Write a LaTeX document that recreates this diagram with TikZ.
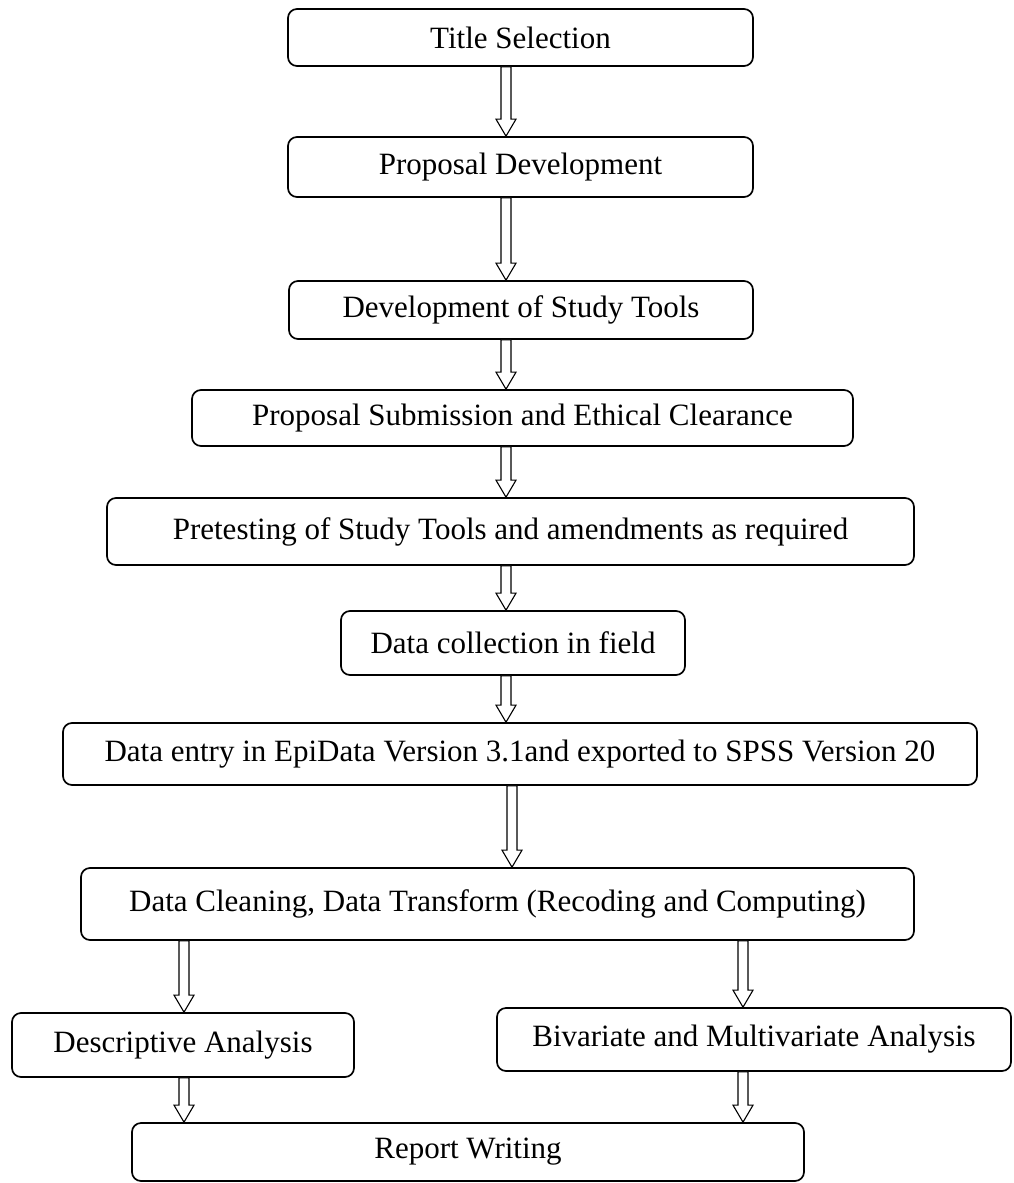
\documentclass[tikz,border=0pt]{standalone}
\usepackage{fontspec}
\setmainfont{Liberation Serif}
\usetikzlibrary{calc}

\tikzset{
  stage/.style={draw, line width=1.7pt, rounded corners=9pt, inner sep=0pt,
    font=\fontsize{31}{37}\selectfont, align=center},
  flowarrow/.style={draw, line width=1.1pt, fill=white, line join=miter}
}

% stage box given by its left, right, top and bottom edges (in px, y downwards)
\newcommand\stagebox[6]{%
  \node[stage, minimum width={#3-#2}, minimum height={#5-#4}]
    (#1) at ({(#2+#3)/2},{(#4+#5)/2}) {#6};}

% hollow block arrow at horizontal position #1 from node #2 down to node #3
\newcommand\flowlink[3]{%
  \path[flowarrow] let \p1=(#2.south), \p2=(#3.north) in
    (#1pt-5pt,\y1) -- (#1pt+5pt,\y1) -- (#1pt+5pt,\y2+17pt)
    -- (#1pt+10pt,\y2+17pt) -- (#1pt,\y2) -- (#1pt-10pt,\y2+17pt)
    -- (#1pt-5pt,\y2+17pt) -- cycle;}

\begin{document}
\begin{tikzpicture}[x=1pt, y=-1pt]
  \useasboundingbox (0,0) rectangle (1013,1183);

  \stagebox{title}{288}{753}{9}{66}{Title Selection}
  \stagebox{proposal}{288}{753}{137}{197}{Proposal Development}
  \stagebox{tools}{289}{753}{281}{339}{Development of Study Tools}
  \stagebox{submit}{192}{853}{390}{446}{Proposal Submission and Ethical Clearance}
  \stagebox{pretest}{107}{914}{498}{565}{Pretesting of Study Tools and amendments as required}
  \stagebox{collect}{341}{685}{611}{675}{Data collection in field}
  \stagebox{entry}{63}{977}{723}{785}{Data entry in EpiData Version 3.1and exported to SPSS Version 20}
  \stagebox{clean}{81}{914}{868}{940}{Data Cleaning, Data Transform (Recoding and Computing)}
  \stagebox{desc}{12}{354}{1013}{1077}{Descriptive Analysis}
  \stagebox{bivar}{497}{1011}{1008}{1071}{Bivariate and Multivariate Analysis}
  \stagebox{report}{132}{804}{1123}{1181}{Report Writing}

  \flowlink{506}{title}{proposal}
  \flowlink{506}{proposal}{tools}
  \flowlink{506}{tools}{submit}
  \flowlink{506}{submit}{pretest}
  \flowlink{506}{pretest}{collect}
  \flowlink{506}{collect}{entry}
  \flowlink{512}{entry}{clean}
  \flowlink{184}{clean}{desc}
  \flowlink{743}{clean}{bivar}
  \flowlink{184}{desc}{report}
  \flowlink{743}{bivar}{report}
\end{tikzpicture}
\end{document}
